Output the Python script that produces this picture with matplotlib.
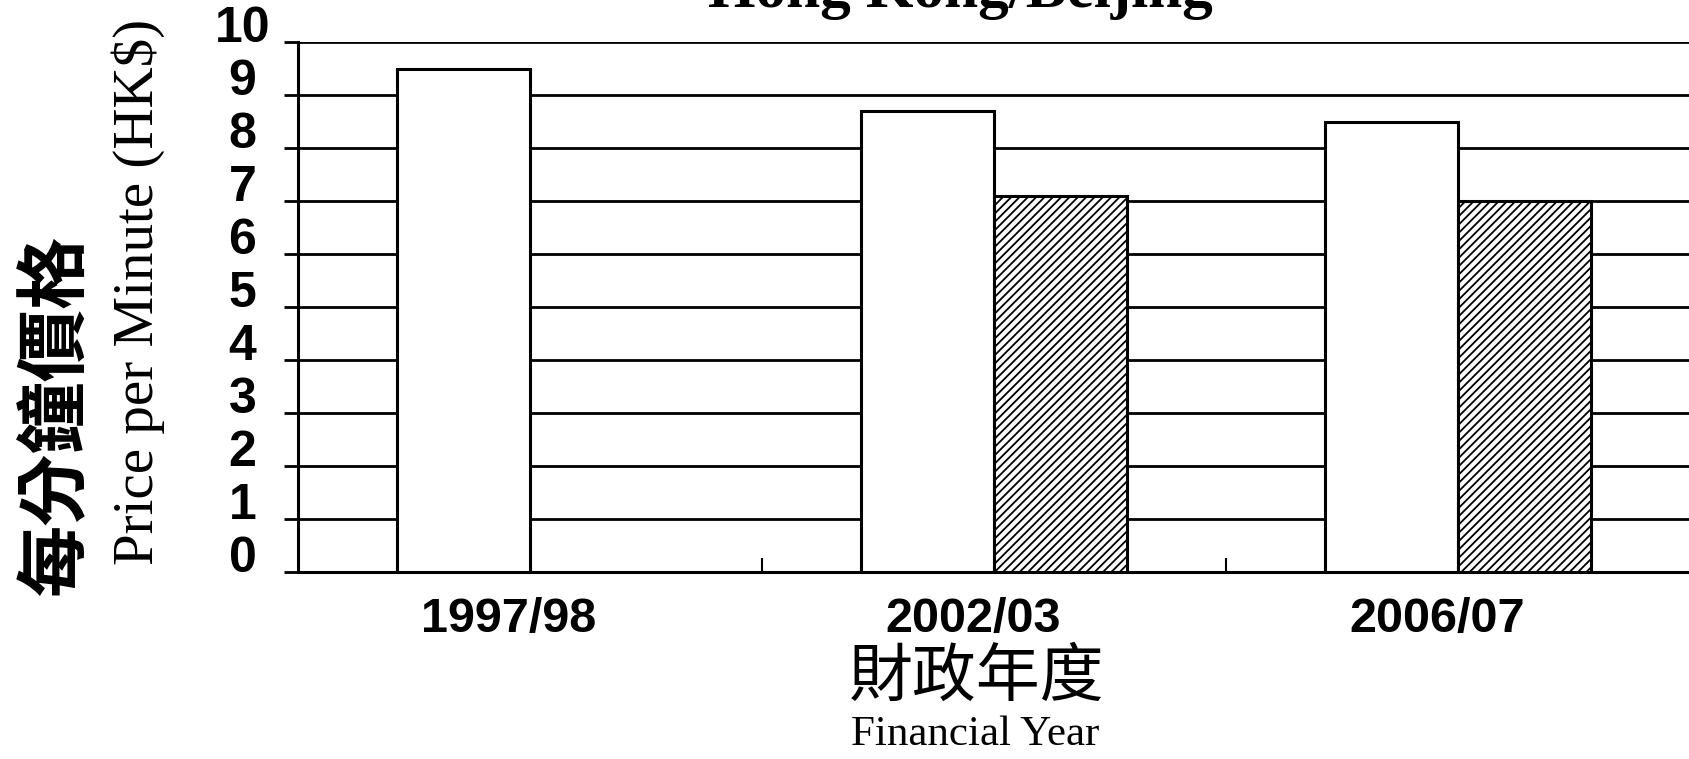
import matplotlib
matplotlib.use('Agg')
import matplotlib.pyplot as plt
import matplotlib.transforms as mtransforms
import numpy as np

# price per minute, HK$
categories = ['1997/98', '2002/03', '2006/07']
price_plain = [9.5, 8.7, 8.5]
price_hatched = [np.nan, 7.1, 7.0]
yticks = list(range(0, 11))

plt.rcParams['font.family'] = ['Liberation Sans', 'DejaVu Sans']
plt.rcParams['hatch.linewidth'] = 1.3

W, H = 1690, 759
fig = plt.figure(figsize=(W / 100, H / 100), dpi=100)
ax = fig.add_axes([298 / W, 187 / H, 1 - 298 / W, 530 / H])

x = np.arange(len(categories))
w = 1 / 3.5  # two bars + 150% gap
ax.bar(x - w / 2, price_plain, w, color='white', edgecolor='black', linewidth=2.2, zorder=3)
ax.bar(x + w / 2, price_hatched, w, color='white', edgecolor='black', hatch='////',
       linewidth=2.2, zorder=3)

ax.set_xlim(-0.5, len(categories) - 0.5)
ax.set_ylim(0, 10)
ax.set_yticks(yticks)
ax.yaxis.grid(True, color='black', linewidth=2)
ax.set_axisbelow(True)

# boundary ticks between years, labels at the year centres
ax.set_xticks(x[:-1] + 0.5)
ax.set_xticklabels([])
ax.set_xticks(x, categories, minor=True)
ax.tick_params(axis='x', which='major', direction='in', length=10, width=1.5)
ax.tick_params(axis='x', which='minor', length=0, pad=18, labelsize=35)
ax.tick_params(axis='y', direction='out', length=10, width=2, pad=30, labelsize=36)

shift = mtransforms.ScaledTranslation(-0.21, 0, fig.dpi_scale_trans)
for lab in ax.get_xticklabels(minor=True):
    lab.set_fontweight('bold')
    lab.set_transform(lab.get_transform() + shift)
for lab in ax.get_yticklabels():
    lab.set_fontweight('bold')
    lab.set_horizontalalignment('center')
    lab.set_verticalalignment('baseline')

for side in ['top', 'right']:
    ax.spines[side].set_visible(False)
ax.spines['left'].set_linewidth(2.2)
ax.spines['bottom'].set_linewidth(2.2)

fig.text(960 / W, 1 - 7 / H, 'Hong Kong/Beijing', ha='center', va='baseline',
         fontsize=44, fontweight='bold', family='Liberation Serif')
fig.text(55 / W, 1 - 414 / H, '每分鐘價格', rotation=90, ha='center', va='center',
         fontsize=52, fontweight='bold', family='Noto Sans CJK TC')
fig.text(138 / W, 1 - 292 / H, 'Price per Minute (HK$)', rotation=90, ha='center',
         va='center', fontsize=41, family='Liberation Serif')
fig.text(977 / W, 1 - 678 / H, '財政年度', ha='center', va='center',
         fontsize=46, family='Noto Sans CJK TC')
fig.text(975 / W, 1 - 745 / H, 'Financial Year', ha='center', va='baseline',
         fontsize=31, family='Liberation Serif')

fig.savefig('out.png', dpi=100)
